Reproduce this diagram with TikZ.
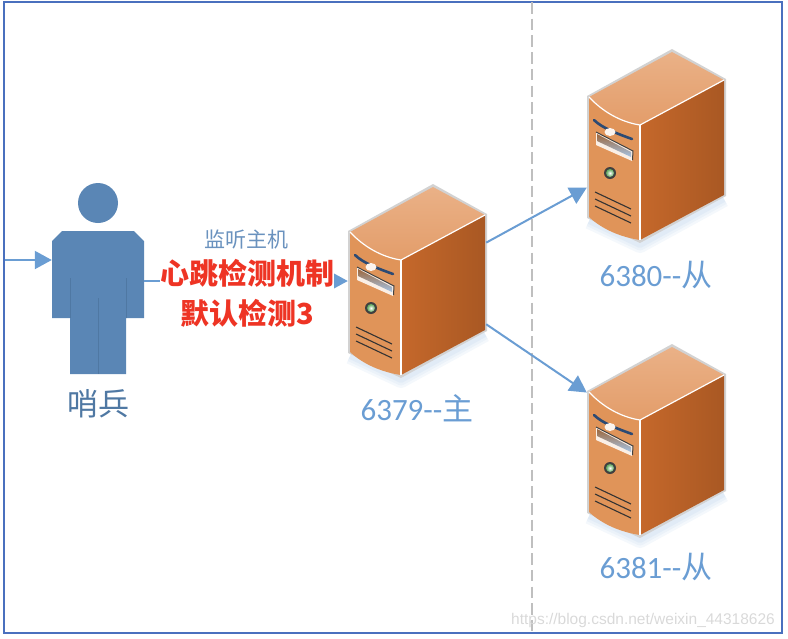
\documentclass[tikz,border=0pt]{standalone}
\usepackage{fontspec}
\setmainfont{Carlito}
\newfontfamily\cjk{Noto Sans CJK SC}
\newfontfamily\wmfont{Liberation Sans}
\usetikzlibrary{positioning, arrows.meta, calc}
\definecolor{framecolor}{HTML}{4A70BE}
\definecolor{linkcolor}{HTML}{6A9DD3}
\definecolor{personcolor}{HTML}{5A86B5}
\definecolor{personline}{HTML}{4F78A3}
\definecolor{listencolor}{HTML}{6A92BE}
\definecolor{alertcolor}{HTML}{EE3424}
\definecolor{topA}{HTML}{EAB187}
\definecolor{topB}{HTML}{E39D6A}
\definecolor{frontcolor}{HTML}{E09459}
\definecolor{sideA}{HTML}{C5682B}
\definecolor{sideB}{HTML}{A95823}
\definecolor{slotcolor}{HTML}{2C4A73}
\tikzset{
    link/.style={linkcolor, line width=2pt, -{Triangle[length=17pt, width=18pt]}},
    holder/.style={rectangle, minimum width=138pt, minimum height=192pt, inner sep=0pt},
    hostlabel/.style={text=linkcolor, font=\fontsize{31}{33}\selectfont},
    server/.pic={
        % Soft shadow
        \foreach \sw in {16,11,6} {
            \draw[linkcolor, opacity=.07, line width=\sw pt, line join=round] (-51,96) -- (0,120) -- (84,74);
        }
        % Faces
        \fill[gray!35] (-53,-29) -- (32,-76) -- (86,-46) -- (86,71) -- (0,118) -- (-53,93) -- cycle;
        \shade[top color=topA, bottom color=topB] (-51,-28) -- (32,-73) -- (84,-45) -- (0,0) .. controls (-20,-3) and (-38,-14) .. (-51,-28);
        \fill[frontcolor] (-51,-28) .. controls (-38,-14) and (-20,-3) .. (0,0) -- (0,115) .. controls (-20,112) and (-38,104) .. (-51,92) -- cycle;
        \shade[left color=sideA, right color=sideB] (0,0) -- (84,-45) -- (84,70) -- (0,115) -- cycle;
        \draw[white, line width=1.2pt] (-51,-28) .. controls (-38,-14) and (-20,-3) .. (0,0) -- (84,-45);
        \draw[white, line width=1.2pt] (0,0) -- (0,115);
        % Slot
        \draw[slotcolor, line width=2.6pt, line cap=round] (-46,-5) .. controls (-38,3) and (-22,9) .. (-8,14);
        \fill[white!90!frontcolor] (-30,7) ellipse (5.5pt and 4pt);
        % Drive bay
        \fill[white!85!frontcolor] (-44,7) -- (-7,26) -- (-8,36) -- (-44,20) -- cycle;
        \shade[top color=black!30!frontcolor, bottom color=linkcolor!60!white] (-43,9) -- (-9,27) -- (-9,32) -- (-43,16) -- cycle;
        \draw[black!75, line width=1pt] (-44,7) -- (-7,26) -- (-7.5,35);
        % Lamp
        \fill[black!75] (-30,48) circle (6pt);
        \shade[inner color=white, outer color=green!30!gray] (-30,48) circle (4pt);
        % Vents
        \foreach \vy in {67,74,81} {
            \draw[black!80, line width=1.1pt] (-45,\vy) -- (-9,\vy+17);
        }
    }
}
\begin{document}
\begin{tikzpicture}[x=1pt, y=-1pt]
    \useasboundingbox (0,0) rectangle (788,638);
    \draw[framecolor, line width=1.3pt] (4,2) rectangle (782,633);
    \draw[black!25, line width=1.8pt, dash pattern=on 11.5pt off 5.2pt] (532,2) -- (532,633);

    % Person
    \node[rectangle, minimum width=92pt, minimum height=191pt, inner sep=0pt] (sentinel) at (98,278.5) {};
    \fill[personcolor] (98,203) circle (20pt);
    \fill[personcolor] (62,231) -- (134,231) -- (144,241) -- (144,318) -- (126,318) -- (126,374) -- (70,374) -- (70,318) -- (52,318) -- (52,241) -- cycle;
    \draw[personline, line width=1pt] (70,278) -- (70,318) (126,278) -- (126,318) (98,298) -- (98,374);
    \node[text=personline, font=\fontsize{31}{33}\selectfont\cjk] (sentinellabel) at (98,404) {哨兵};

    % Servers
    \node[holder] (master) at (417,281) {};
    \node[holder] (slaveA) at (656,146) {};
    \node[holder] (slaveB) at (656,441) {};
    \pic at (401,260) {server};
    \pic at (640,125) {server};
    \pic at (640,420) {server};
    \node[hostlabel] (masterlabel) at (417,408) {6379{-}{-}{\cjk 主}};
    \node[hostlabel] (slaveAlabel) at (656,275) {6380{-}{-}{\cjk 从}};
    \node[hostlabel] (slaveBlabel) at (656,567) {6381{-}{-}{\cjk 从}};

    % Connectors
    \coordinate (entry) at (5,260);
    \draw[link] (entry) -- (entry -| sentinel.west);
    \draw[link] (sentinel.east |- master.west) -- (master.west);
    \draw[link] (master.29) -- (slaveA.211);
    \draw[link] (master.-32) -- (slaveB.145);

    % Labels on the link
    \node[text=listencolor, font=\fontsize{21}{23}\selectfont\cjk] (listen) at (246.5,240) {监听主机};
    \node[fill=white, inner sep=0pt, align=center, text=alertcolor, font=\fontsize{29}{40}\selectfont\cjk\bfseries] (heartbeat) at (247,293) {心跳检测机制\\默认检测3};

    \node[text=black!15, font=\fontsize{15.5}{17}\selectfont\wmfont] (watermark) at (643,620) {https://blog.csdn.net/weixin\_44318626};
\end{tikzpicture}
\end{document}
